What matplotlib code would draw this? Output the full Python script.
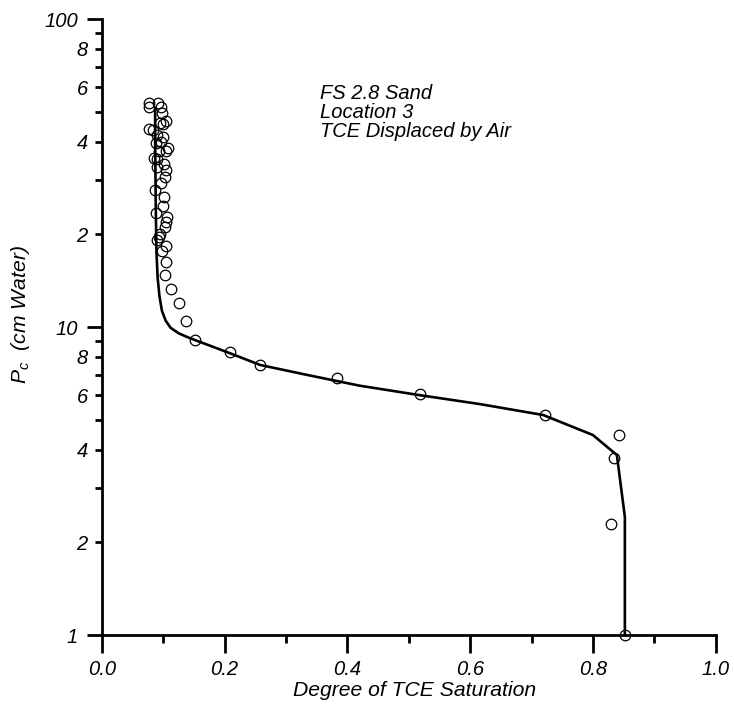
import numpy as np
import matplotlib
matplotlib.use('Agg')
import matplotlib.pyplot as plt
from matplotlib.ticker import FixedLocator, FixedFormatter

plt.rcParams['font.family'] = ['Liberation Sans', 'DejaVu Sans']
plt.rcParams['font.style'] = 'italic'
plt.rcParams['mathtext.fontset'] = 'custom'
plt.rcParams['mathtext.it'] = 'Liberation Sans:italic'
plt.rcParams['mathtext.rm'] = 'Liberation Sans:italic'

# --- measured points (degree of TCE saturation, capillary pressure in cm water)
sat_obs = [0.077, 0.0775, 0.092, 0.0966, 0.0987, 0.104, 0.095, 0.0998, 0.0775, 0.084,
           0.0896, 0.0993, 0.088, 0.0966, 0.108, 0.1047, 0.0938, 0.0857, 0.0906, 0.1015,
           0.0896, 0.1047, 0.103, 0.0966, 0.0873, 0.102, 0.0993, 0.0889, 0.107, 0.1047,
           0.1026, 0.095, 0.0896, 0.0933, 0.1047, 0.0977, 0.1047, 0.1036, 0.113, 0.126,
           0.138, 0.152, 0.209, 0.258, 0.383, 0.518, 0.722, 0.843, 0.835, 0.829, 0.852]
pc_obs = [53.5, 51.7, 53.5, 51.7, 49.6, 46.7, 45.8, 45.5, 44.0, 43.6,
          42.0, 41.5, 39.7, 40.0, 38.0, 37.4, 37.3, 35.5, 35.0, 33.8,
          33.0, 32.3, 30.6, 29.3, 27.9, 26.5, 24.8, 23.5, 22.8, 22.0,
          21.2, 20.0, 19.1, 19.6, 18.3, 17.6, 16.3, 14.8, 13.3, 12.0,
          10.45, 9.07, 8.3, 7.53, 6.83, 6.06, 5.18, 4.46, 3.75, 2.30, 1.0]

# --- fitted curve
sat_fit = [0.852, 0.852, 0.839, 0.800, 0.719, 0.616, 0.520, 0.420, 0.336, 0.258, 0.209,
           0.152, 0.138, 0.125, 0.112, 0.104, 0.098, 0.094, 0.091, 0.089, 0.088, 0.087, 0.087]
pc_fit = [1.0, 2.42, 3.84, 4.46, 5.18, 5.62, 6.0, 6.45, 6.98, 7.53, 8.22,
          9.07, 9.3, 9.55, 9.95, 10.5, 11.3, 12.6, 14.5, 17.8, 25, 40, 51.3]

# --- axis ticks
x_major = [0.0, 0.2, 0.4, 0.6, 0.8, 1.0]
x_major_labels = ['0.0', '0.2', '0.4', '0.6', '0.8', '1.0']
x_minor = [0.1, 0.3, 0.5, 0.7, 0.9]
y_major = [1, 10, 100]
y_major_labels = ['1', '10', '100']
y_minor = [2, 3, 4, 5, 6, 7, 8, 9, 20, 30, 40, 50, 60, 70, 80, 90]
y_minor_labels = ['2', '', '4', '', '6', '', '8', '', '2', '', '4', '', '6', '', '8', '']

fig = plt.figure(figsize=(7.34, 7.07), dpi=100)
ax = fig.add_axes((0.1386, 0.1018, 0.8365, 0.8713))

ax.plot(sat_fit, pc_fit, c='k', lw=1.9, clip_on=False, zorder=2)
ax.plot(sat_obs, pc_obs, ls='none', marker='o', ms=7.6, mfc='none', mec='k', mew=0.9,
        clip_on=False, zorder=3)

ax.set_yscale('log')
ax.set_xlim(0, 1)
ax.set_ylim(1, 100)

for side in ['top', 'right']:
    ax.spines[side].set_visible(False)
for side in ['left', 'bottom']:
    ax.spines[side].set_linewidth(2.0)

ax.xaxis.set_major_locator(FixedLocator(x_major))
ax.xaxis.set_major_formatter(FixedFormatter(x_major_labels))
ax.xaxis.set_minor_locator(FixedLocator(x_minor))
ax.yaxis.set_major_locator(FixedLocator(y_major))
ax.yaxis.set_major_formatter(FixedFormatter(y_major_labels))
ax.yaxis.set_minor_locator(FixedLocator(y_minor))
ax.yaxis.set_minor_formatter(FixedFormatter(y_minor_labels))

ax.tick_params(axis='x', which='major', direction='out', length=13, width=2.0, pad=5, labelsize=14.5)
ax.tick_params(axis='x', which='minor', direction='out', length=6, width=2.0)
ax.tick_params(axis='y', which='major', direction='out', length=11, width=2.0, pad=6, labelsize=14.5)
ax.tick_params(axis='y', which='minor', direction='out', length=5, width=2.0, pad=5, labelsize=14.5)

ax.set_xlabel('Degree of TCE Saturation', fontsize=15.2)
ax.xaxis.set_label_coords(0.51, -0.074)
ax.set_ylabel(r'$P_c$  (cm Water)', fontsize=15.2)
ax.yaxis.set_label_coords(-0.113, 0.52)

ax.text(0.355, 61.5, 'FS 2.8 Sand\nLocation 3\nTCE Displaced by Air',
        fontsize=14.5, va='top', ha='left', linespacing=1.0)

fig.savefig('out.png', dpi=100)
